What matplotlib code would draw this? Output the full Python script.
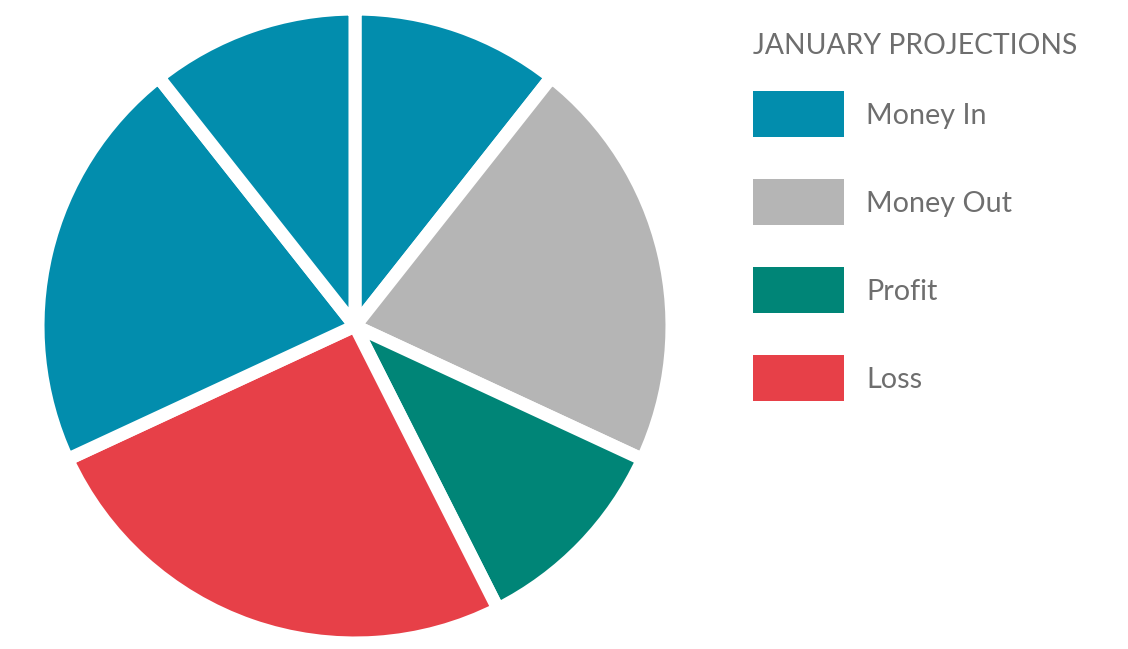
import matplotlib
matplotlib.use("Agg")
import matplotlib.pyplot as plt
from matplotlib.patches import Rectangle

title = "JANUARY PROJECTIONS"
categories = ["Money In", "Money Out", "Profit", "Loss"]
colors = {"Money In": "#028DAD", "Money Out": "#B5B5B5", "Profit": "#008577", "Loss": "#E74048"}
slice_cats = ["Money In", "Money Out", "Profit", "Loss", "Money In", "Money In"]
slice_vals = [10, 20, 10, 24, 20, 10]

W, H = 1128, 649
fig = plt.figure(figsize=(W / 100, H / 100), dpi=100)
ax = fig.add_axes([0, 0, 1, 1])

ax.pie(slice_vals, colors=[colors[c] for c in slice_cats], startangle=90, counterclock=False,
       center=(355, H - 326), radius=317,
       wedgeprops=dict(edgecolor="white", linewidth=9.4, joinstyle="miter"))
ax.set_aspect("equal")
ax.set_xlim(0, W)
ax.set_ylim(0, H)
ax.axis("off")

font = "Lato"
tc = "#6E6E6E"
ax.text(753, H - 54, title, fontsize=20.3, color=tc, family=font, va="baseline", ha="left")
for i, c in enumerate(categories):
    top = 91 + 88 * i
    ax.add_patch(Rectangle((753, H - top - 46), 91, 46, facecolor=colors[c], edgecolor="none"))
    ax.text(866, H - (124 + 88 * i), c, fontsize=20.7, color=tc, family=font, va="baseline", ha="left")

fig.savefig("out.png", dpi=100)
